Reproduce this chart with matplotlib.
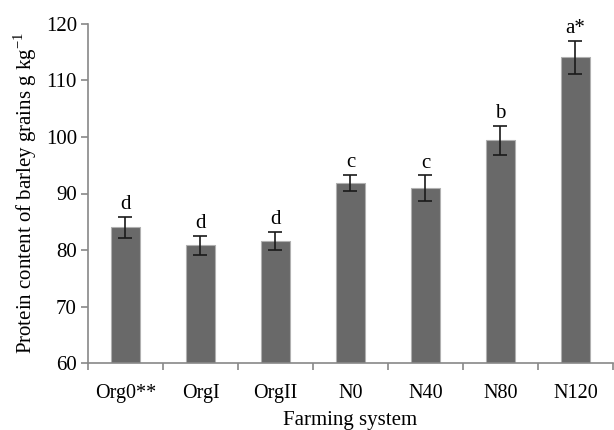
import matplotlib
matplotlib.use("Agg")
import matplotlib.pyplot as plt
import numpy as np

categories = ["Org0**", "OrgI", "OrgII", "N0", "N40", "N80", "N120"]
values = [84.0, 80.8, 81.6, 91.9, 90.9, 99.4, 114.1]
errors = [1.8, 1.7, 1.6, 1.4, 2.3, 2.5, 2.9]
letters = ["d", "d", "d", "c", "c", "b", "a*"]
yticks = [60, 70, 80, 90, 100, 110, 120]

plt.rcParams['font.family'] = ['Liberation Serif', 'DejaVu Serif']
plt.rcParams['mathtext.fontset'] = 'custom'
plt.rcParams['mathtext.rm'] = 'Liberation Serif'
fig = plt.figure(figsize=(6.14, 4.30), dpi=100)
ax = fig.add_axes([0.1433, 0.1558, 0.8550, 0.7884])

x = np.arange(len(categories))
ax.bar(x, [v - 60 for v in values], bottom=60, width=0.38, color="#696969",
       edgecolor="#b0b0b0", linewidth=0.8, zorder=2)
ax.errorbar(x, values, yerr=errors, fmt="none", ecolor="#1a1a1a",
            elinewidth=1.2, capsize=5, capthick=1.2, zorder=3)
for xi, v, e, t in zip(x, values, errors, letters):
    ax.annotate(t, (xi, v + e), xytext=(0, 2), textcoords="offset points",
                ha="center", va="bottom", fontsize=15)

ax.set_xlim(-0.5, len(categories) - 0.5)
ax.set_ylim(60, 120)
ax.set_yticks(yticks)
ax.set_xticks(x)
ax.set_xticklabels(categories)
ax.set_xticks(np.arange(-0.5, len(categories)), minor=True)
ax.tick_params(axis="x", which="major", length=0, pad=15, labelsize=14.5)
ax.tick_params(axis="x", which="minor", length=5, color="#888888", width=1.2)
ax.tick_params(axis="y", length=5, color="#888888", width=1.2, labelsize=15, pad=3)

for s in ["top", "right"]:
    ax.spines[s].set_visible(False)
for s in ["left", "bottom"]:
    ax.spines[s].set_color("#888888")
    ax.spines[s].set_linewidth(1.2)

ax.set_ylabel("Protein content of barley grains g kg$^{\\mathregular{-1}}$", fontsize=15, labelpad=5)
ax.set_xlabel("Farming system", fontsize=15, labelpad=6)

fig.savefig("out.png", dpi=100)
